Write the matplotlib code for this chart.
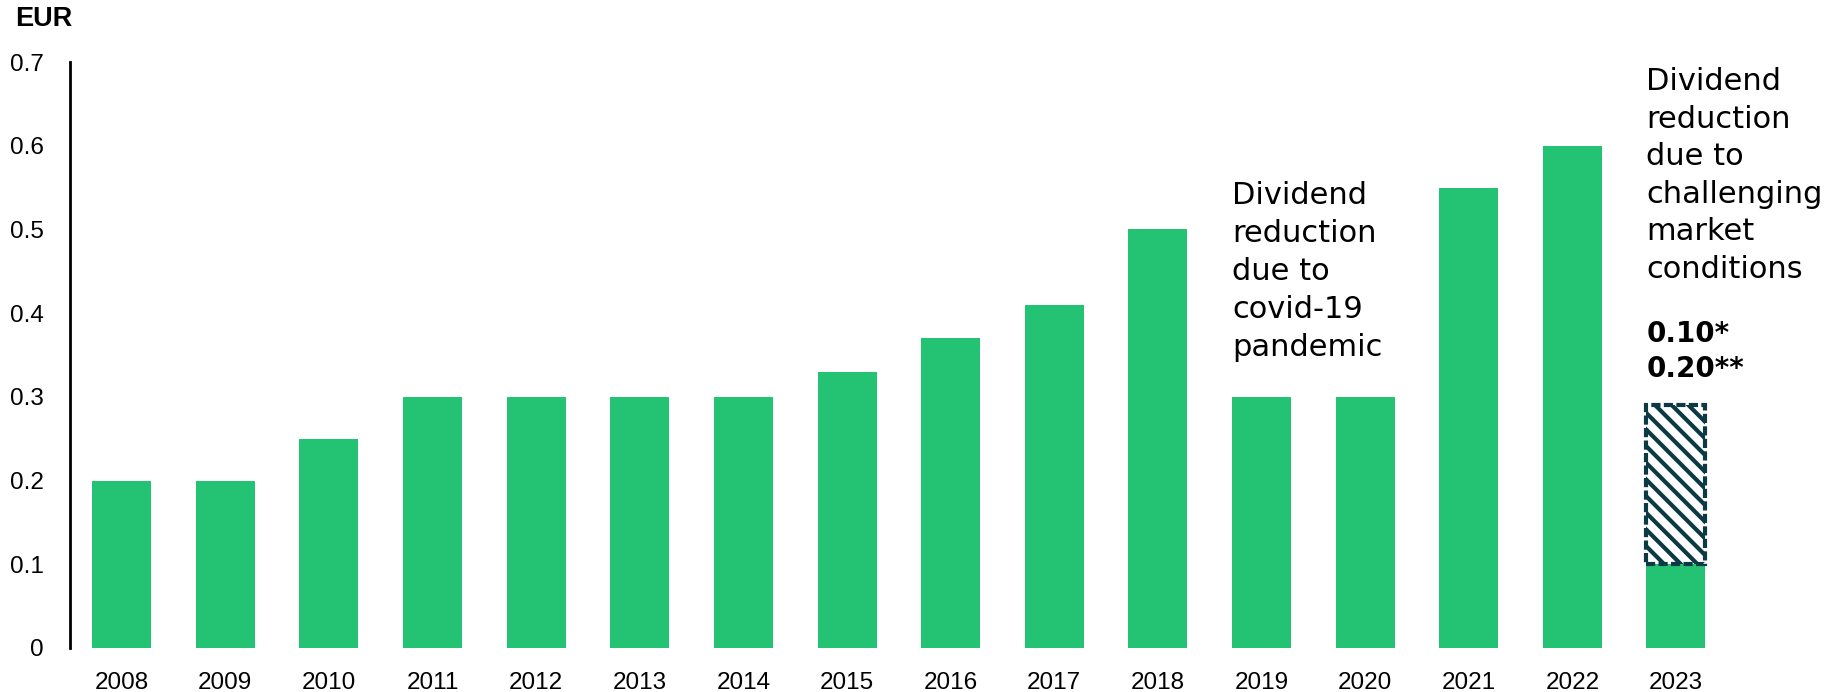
import matplotlib
matplotlib.use("Agg")
import matplotlib.pyplot as plt

# Dividend per share, EUR
years = ["2008", "2009", "2010", "2011", "2012", "2013", "2014", "2015",
         "2016", "2017", "2018", "2019", "2020", "2021", "2022", "2023"]
dividends = [0.20, 0.20, 0.25, 0.30, 0.30, 0.30, 0.30, 0.33,
             0.37, 0.41, 0.50, 0.30, 0.30, 0.55, 0.60, 0.10]
proposal_top_2023 = 0.29   # upper end of the hatched proposal segment
yticks = [0, 0.1, 0.2, 0.3, 0.4, 0.5, 0.6, 0.7]
ytick_labels = ["0", "0.1", "0.2", "0.3", "0.4", "0.5", "0.6", "0.7"]

GREEN = "#23c373"
DARK = "#0b3a44"
plt.rcParams["hatch.linewidth"] = 3.0
plt.rcParams["font.family"] = ["Liberation Sans", "DejaVu Sans"]

fig = plt.figure(figsize=(18.4, 6.92), dpi=100)
ax = fig.add_axes([0.038, 0.0636, 0.901, 0.8468])

x = list(range(len(years)))
bw = 0.57
ax.bar(x, dividends, width=bw, color=GREEN, edgecolor="none", zorder=2)

# 2023 proposal segment: hatched, dashed outline
last = len(years) - 1
ax.bar(last, proposal_top_2023 - dividends[last], bottom=dividends[last],
       width=bw, color="white", edgecolor=DARK, hatch="\\\\",
       linewidth=3, linestyle=(0, (2.2, 0.8)), zorder=3)

ax.set_xlim(-0.5, len(years) - 0.5)
ax.set_ylim(0, 0.7)
ax.set_yticks(yticks)
ax.set_yticklabels(ytick_labels)
ax.set_xticks(x)
ax.set_xticklabels(years)
ax.tick_params(axis="y", length=0, pad=19, labelsize=17.5)
ax.tick_params(axis="x", length=0, pad=17, labelsize=17.5)
for s in ["top", "right", "bottom"]:
    ax.spines[s].set_visible(False)
ax.spines["left"].set_linewidth(2)

fig.text(0.008, 0.972, "EUR", fontsize=19.5, fontweight="bold", va="center", ha="left")

note_font = ["DejaVu Sans"]
ax.text(11 - bw / 2, 0.558, "Dividend\nreduction\ndue to\ncovid-19\npandemic",
        fontsize=22, family=note_font, va="top", ha="left", linespacing=1.39,
        clip_on=False)
ax.text(last - bw / 2, 0.694,
        "Dividend\nreduction\ndue to\nchallenging\nmarket\nconditions",
        fontsize=22, family=note_font, va="top", ha="left", linespacing=1.37,
        clip_on=False)
ax.text(last - bw / 2, 0.392, "0.10*\n0.20**",
        fontsize=20, family=note_font, fontweight="bold", va="top", ha="left",
        linespacing=1.33, clip_on=False)

fig.savefig("out.png", dpi=100)
